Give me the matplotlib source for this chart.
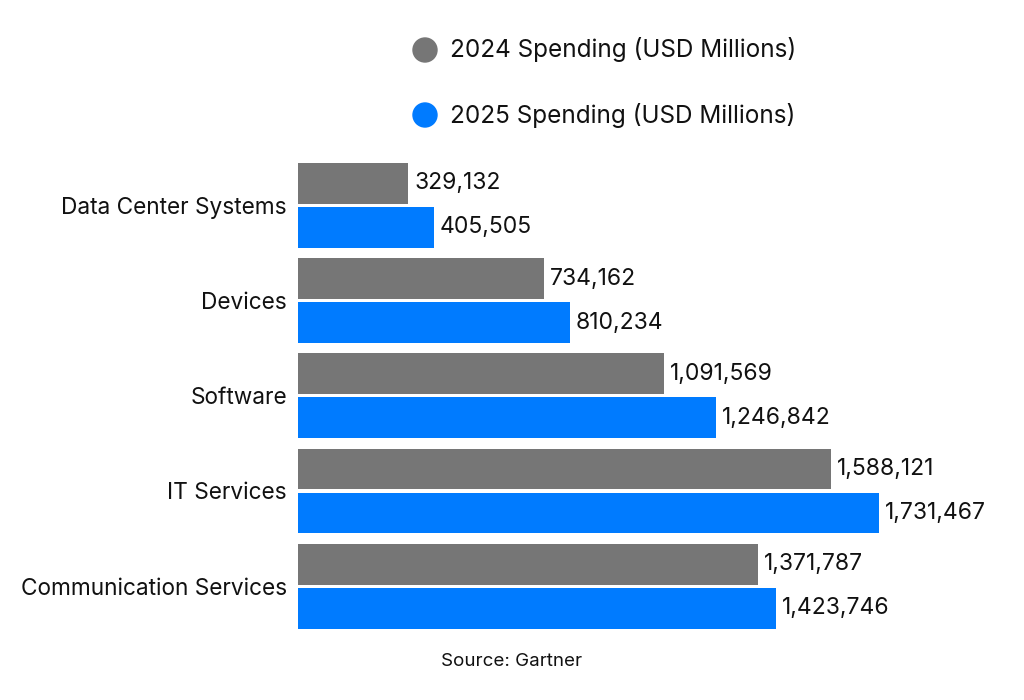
import matplotlib.pyplot as plt
from matplotlib.patches import Ellipse
import numpy as np

plt.rcParams["font.family"] = ["Inter", "DejaVu Sans"]

categories = ["Data Center Systems", "Devices", "Software", "IT Services", "Communication Services"]
spend_2024 = [329132, 734162, 1091569, 1588121, 1371787]
spend_2025 = [405505, 810234, 1246842, 1731467, 1423746]
series_names = ["2024 Spending (USD Millions)", "2025 Spending (USD Millions)"]

gray = "#767676"
blue = "#007bff"

fig = plt.figure(figsize=(10.24, 7), dpi=100)
ax = fig.add_axes([298 / 1024, 1 - 629 / 700, 702 / 1024, 466 / 700])

y = np.arange(len(categories))
h = 0.43
off = 0.231
b1 = ax.barh(y - off, spend_2024, height=h, color=gray)
b2 = ax.barh(y + off, spend_2025, height=h, color=blue)

for bars, vals in ((b1, spend_2024), (b2, spend_2025)):
    for bar, v in zip(bars, vals):
        ax.text(v + 17000, bar.get_y() + bar.get_height() / 2, f"{v:,}",
                va="center", ha="left", fontsize=16.5, color="#111111")

ax.set_xlim(0, 1731467 * 702 / 581)
ax.set_ylim(4.45, -0.446)
ax.set_yticks(y)
ax.set_yticklabels(categories, fontsize=16.3, color="#111111")
ax.tick_params(axis="y", length=0, pad=8)
ax.set_xticks([])
for s in ax.spines.values():
    s.set_visible(False)

# legend, drawn by hand like the original
r = 12
for i, (name, c) in enumerate(zip(series_names, [gray, blue])):
    ly = 1 - (50 + 65 * i) / 700
    fig.patches.append(Ellipse((425 / 1024, ly), 2 * r / 1024, 2 * r / 700,
                               transform=fig.transFigure, color=c, figure=fig))
    fig.text(450 / 1024, ly, name, fontsize=17.5, va="center", ha="left", color="#111111")

fig.text(512 / 1024, 1 - 662 / 700, "Source: Gartner", fontsize=13.5, ha="center", va="center",
         color="#111111")

fig.savefig("out.png", dpi=100, facecolor="white")
